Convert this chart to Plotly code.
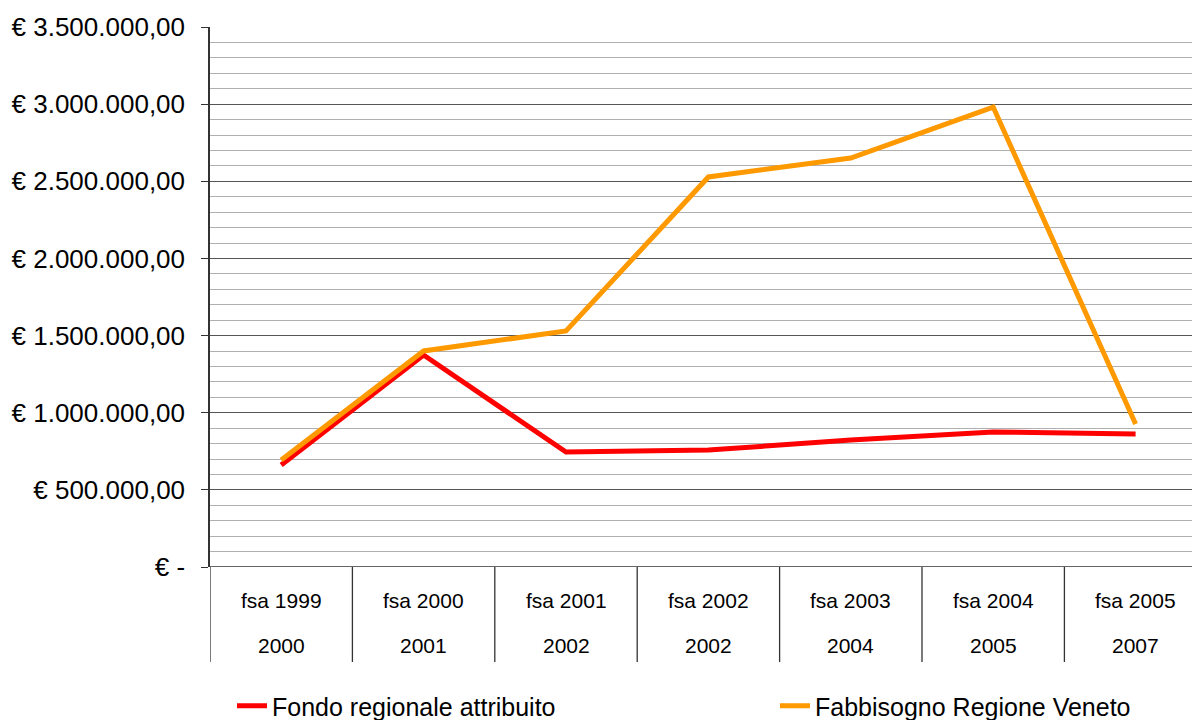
import plotly.graph_objects as go

categories_top = ["fsa 1999", "fsa 2000", "fsa 2001", "fsa 2002", "fsa 2003", "fsa 2004", "fsa 2005"]
categories_bottom = ["2000", "2001", "2002", "2002", "2004", "2005", "2007"]
fondo = [661000, 1374000, 745000, 758000, 823000, 875000, 862000]
fabbisogno = [694000, 1400000, 1530000, 2528000, 2651000, 2981000, 927000]
ytick_vals = [0, 500000, 1000000, 1500000, 2000000, 2500000, 3000000, 3500000]
ytick_text = ["€ -", "€ 500.000,00", "€ 1.000.000,00", "€ 1.500.000,00", "€ 2.000.000,00",
              "€ 2.500.000,00", "€ 3.000.000,00", "€ 3.500.000,00"]

FONT = "Arial, Liberation Sans, sans-serif"
x = list(range(len(categories_top)))

# page body has an 8px margin: figure coordinates = screen coordinates - 8
OFF = 8
W, H = 1200 - OFF, 720 - OFF

fig = go.Figure()
fig.add_trace(go.Scatter(x=x, y=fondo, mode="lines", name="Fondo regionale attribuito",
                         line=dict(color="#FF0000", width=5), legend="legend"))
fig.add_trace(go.Scatter(x=x, y=fabbisogno, mode="lines", name="Fabbisogno Regione Veneto",
                         line=dict(color="#FF9900", width=5), legend="legend2"))

plot_top, plot_bottom, plot_left = 27 - OFF, 567 - OFF, 210 - OFF
ph = plot_bottom - plot_top
cat_w = 142.4

shapes = []
for i in range(len(categories_top) + 1):
    shapes.append(dict(type="line", xref="x", yref="paper", x0=i - 0.5, x1=i - 0.5,
                       y0=0, y1=-(662 - 567) / ph, line=dict(color="#333333", width=1.3)))

annotations = []
for i, (t, b) in enumerate(zip(categories_top, categories_bottom)):
    annotations.append(dict(x=i, y=-(600 - 567) / ph, xref="x", yref="paper", text=t,
                            showarrow=False, font=dict(size=21, color="black", family=FONT),
                            xanchor="center", yanchor="middle"))
    annotations.append(dict(x=i, y=-(645 - 567) / ph, xref="x", yref="paper", text=b,
                            showarrow=False, font=dict(size=21, color="black", family=FONT),
                            xanchor="center", yanchor="middle"))

legend_common = dict(xref="container", yref="container", yanchor="middle",
                     y=(H - (706 - OFF)) / H,
                     xanchor="left", font=dict(size=25, family=FONT, color="black"),
                     bgcolor="rgba(0,0,0,0)", borderwidth=0, itemwidth=30)

fig.update_layout(
    width=W, height=H,
    margin=dict(l=plot_left, r=0, t=plot_top, b=H - plot_bottom, autoexpand=False),
    paper_bgcolor="white", plot_bgcolor="white",
    font=dict(family=FONT, color="black"),
    showlegend=True,
    legend=dict(x=(232 - OFF) / W, **legend_common),
    legend2=dict(x=(775 - OFF) / W, **legend_common),
    xaxis=dict(range=[-0.5, -0.5 + (W - plot_left) / cat_w], showgrid=False, zeroline=False,
               showticklabels=False, ticks="", showline=False, fixedrange=True, automargin=False),
    yaxis=dict(range=[0, 3500000], tickvals=ytick_vals, ticktext=ytick_text,
               tickfont=dict(size=26, family=FONT, color="black"),
               ticks="outside", ticklen=7, tickcolor="#333333", tickwidth=1.3,
               ticklabelstandoff=11, automargin=False,
               showgrid=True, gridcolor="#555555", gridwidth=1.3,
               minor=dict(dtick=100000, tick0=0, showgrid=True, gridcolor="#b0b0b0", gridwidth=1.3, ticks=""),
               zeroline=False, showline=True, linecolor="#333333", linewidth=1.5),
    shapes=shapes + [dict(type="line", xref="paper", yref="y", x0=0, x1=1, y0=0, y1=0,
                          line=dict(color="#333333", width=1.5))],
    annotations=annotations,
)

fig.write_html("out.html")
